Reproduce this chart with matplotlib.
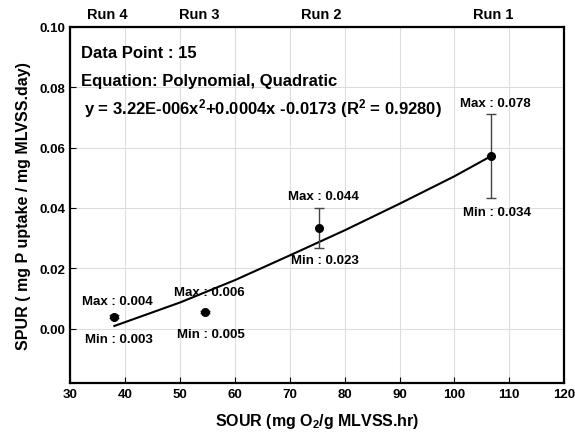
import numpy as np
import matplotlib
matplotlib.use('Agg')
import matplotlib.pyplot as plt

plt.rcParams['font.family'] = ['Liberation Sans', 'DejaVu Sans']
plt.rcParams['font.weight'] = 'bold'
plt.rcParams['axes.labelweight'] = 'bold'
plt.rcParams['mathtext.fontset'] = 'custom'
plt.rcParams['mathtext.rm'] = 'Liberation Sans:bold'
plt.rcParams['mathtext.default'] = 'rm'

# mean SPUR per run with error bar half-width
runs = ['Run 4', 'Run 3', 'Run 2', 'Run 1']
sour = [37.9, 54.6, 75.3, 106.7]
spur = [0.0039, 0.0055, 0.0334, 0.0572]
spur_err = [0.0005, 0.0004, 0.0065, 0.0138]
max_labels = ['Max : 0.004', 'Max : 0.006', 'Max : 0.044', 'Max : 0.078']
min_labels = ['Min : 0.003', 'Min : 0.005', 'Min : 0.023', 'Min : 0.034']
max_pos = [(38.5, 0.0093), (55.3, 0.0123), (76.1, 0.0440), (107.4, 0.0747)]
min_pos = [(38.8, -0.0035), (55.6, -0.0016), (76.4, 0.0227), (107.7, 0.0387)]
run_label_x = [36.7, 53.4, 75.8, 107.0]

# regression curve
fit_x = [38.0, 44.0, 50.0, 60.0, 70.0, 80.0, 90.0, 100.0, 106.7]
fit_y = [0.0009, 0.0048, 0.0087, 0.0161, 0.0243, 0.0326, 0.0414, 0.0505, 0.0572]

fig = plt.figure(figsize=(5.75, 4.39), dpi=100)
ax = fig.add_axes([0.1226, 0.1253, 0.8583, 0.811])

ax.plot(fit_x, fit_y, color='black', lw=1.5)
ax.errorbar(sour, spur, yerr=spur_err, fmt='o', color='black', ms=5.5,
            ecolor='#444444', elinewidth=1, capsize=3.6, capthick=1)

for lab, (x, y) in zip(max_labels, max_pos):
    ax.text(x, y, lab, ha='center', va='center', fontsize=9.5)
for lab, (x, y) in zip(min_labels, min_pos):
    ax.text(x, y, lab, ha='center', va='center', fontsize=9.5)
for lab, x in zip(runs, run_label_x):
    ax.text(x, 1.037, lab, ha='center', va='center', fontsize=10.5,
            transform=ax.get_xaxis_transform())

ax.text(31.9, 0.0917, 'Data Point : 15', ha='left', va='center', fontsize=12)
ax.text(31.9, 0.0822, 'Equation: Polynomial, Quadratic', ha='left', va='center', fontsize=12)
ax.text(32.5, 0.0733, 'y = 3.22E-006x$^2$+0.0004x -0.0173 (R$^2$ = 0.9280)',
        ha='left', va='center', fontsize=12)

ax.set_xlim(30, 120)
ax.set_ylim(-0.018, 0.10)
ax.set_xticks(np.arange(30, 121, 10))
ax.set_yticks([0.0, 0.02, 0.04, 0.06, 0.08, 0.10])
ax.set_yticklabels(['0.00', '0.02', '0.04', '0.06', '0.08', '0.10'])
ax.grid(True, color='#dddddd', lw=0.8)
ax.set_axisbelow(True)
ax.tick_params(direction='in', length=4, labelsize=9.5, top=False, right=False)
for s in ax.spines.values():
    s.set_linewidth(1.6)

ax.set_xlabel('SOUR (mg O$_2$/g MLVSS.hr)', fontsize=11.5, labelpad=8)
ax.set_ylabel('SPUR ( mg P uptake / mg MLVSS.day)', fontsize=11.5, labelpad=6)

fig.savefig('out.png', dpi=100)
